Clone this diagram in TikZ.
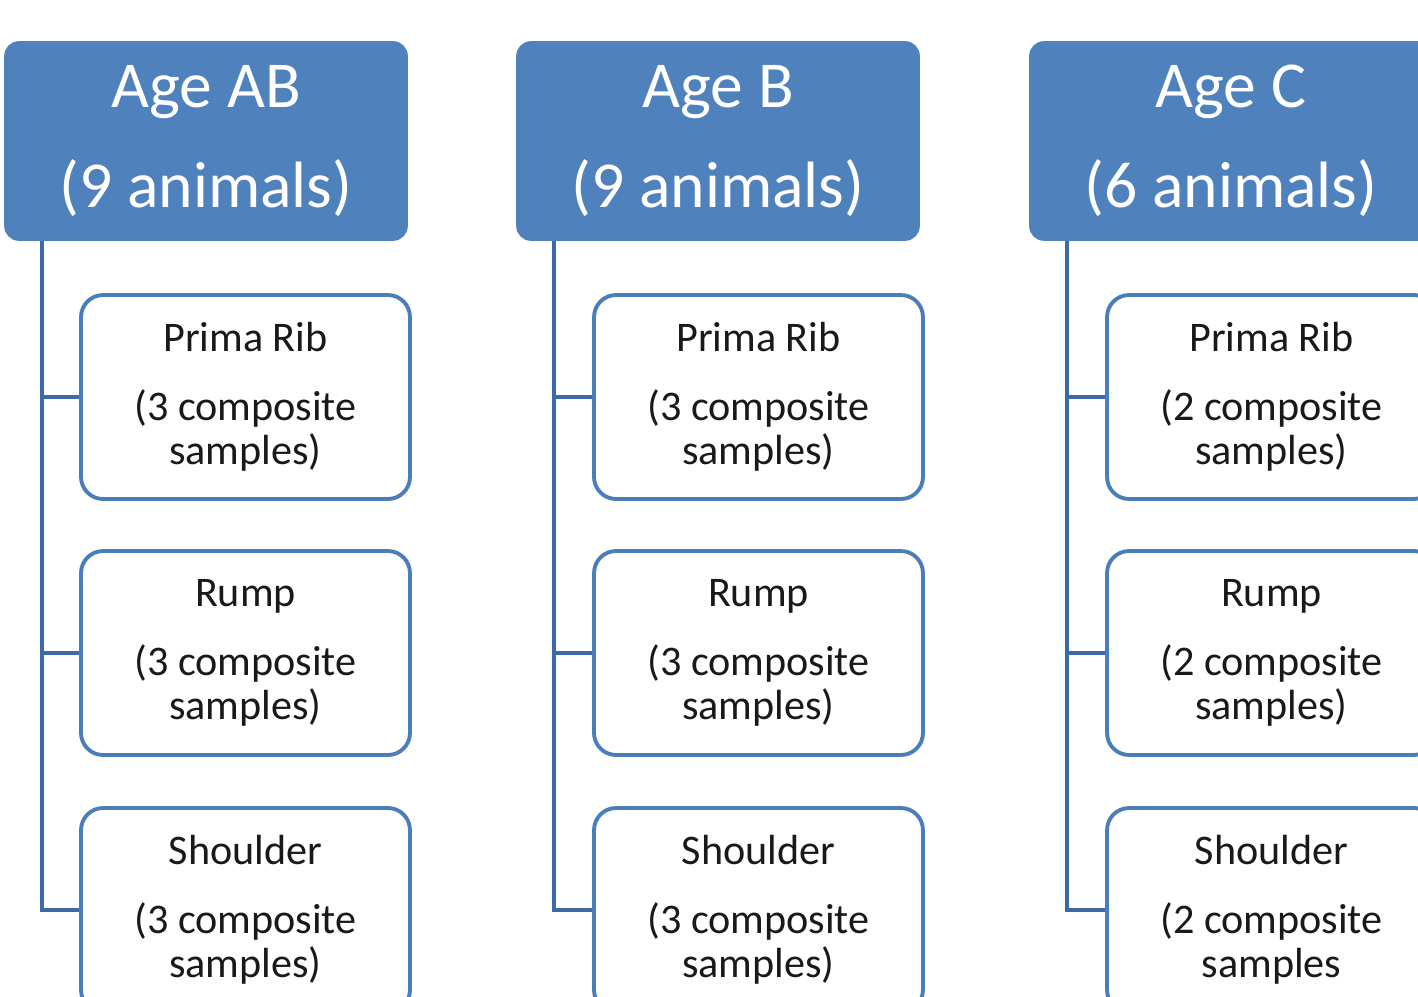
\documentclass[tikz,border=0pt]{standalone}
\usepackage{fontspec}
\setmainfont{Carlito}
\usepackage{tikz}
\definecolor{agefill}{HTML}{4F81BD}
\definecolor{cutline}{HTML}{4A7EBB}
\definecolor{trunkline}{HTML}{3D6AA2}
\tikzset{x=0.02cm, y=-0.02cm,
  agebox/.style={draw=agefill, fill=agefill, rounded corners=0.28cm, line width=1pt,
                 minimum width=8.04cm, minimum height=3.96cm, text=white, align=center,
                 font=\fontsize{37.3}{57}\selectfont},
  cutbox/.style={draw=cutline, fill=white, rounded corners=0.44cm, line width=2.2pt,
                 minimum width=6.58cm, minimum height=4.08cm, text=black!90, align=center,
                 font=\fontsize{24}{25.5}\selectfont},
  trunk/.style={draw=trunkline, line width=2.2pt}}
\newcommand{\cuttext}[2]{#1\\[13.6pt]#2}

\begin{document}
\begin{tikzpicture}
  \useasboundingbox (0,0) rectangle (1418,997);
  \clip (0,0) rectangle (1418,997);
  % age groups
  \node[agebox] (AB) at (206,141) {Age AB\\(9 animals)};
  \node[agebox] (B)  at (718,141) {Age B\\(9 animals)};
  \node[agebox] (C)  at (1231,141) {Age C\\(6 animals)};
  % cuts
  \node[cutbox] (ABrib)      at (245.5,397) {\cuttext{Prima Rib}{(3 composite\\samples)}};
  \node[cutbox] (ABrump)     at (245.5,653) {\cuttext{Rump}{(3 composite\\samples)}};
  \node[cutbox] (ABshoulder) at (245.5,910) {\cuttext{Shoulder}{(3 composite\\samples)}};
  \node[cutbox] (Brib)       at (758.5,397) {\cuttext{Prima Rib}{(3 composite\\samples)}};
  \node[cutbox] (Brump)      at (758.5,653) {\cuttext{Rump}{(3 composite\\samples)}};
  \node[cutbox] (Bshoulder)  at (758.5,910) {\cuttext{Shoulder}{(3 composite\\samples)}};
  \node[cutbox] (Crib)       at (1271.5,397) {\cuttext{Prima Rib}{(2 composite\\samples)}};
  \node[cutbox] (Crump)      at (1271.5,653) {\cuttext{Rump}{(2 composite\\samples)}};
  \node[cutbox] (Cshoulder)  at (1271.5,910) {\cuttext{Shoulder}{(2 composite\\samples}};
  % trunks
  \coordinate (ABt) at (42,0);
  \coordinate (Bt)  at (554,0);
  \coordinate (Ct)  at (1067,0);
  \draw[trunk] (ABt |- AB.south) |- (ABshoulder.west);
  \draw[trunk] (ABt |- ABrib.west) -- (ABrib.west);
  \draw[trunk] (ABt |- ABrump.west) -- (ABrump.west);
  \draw[trunk] (Bt |- B.south) |- (Bshoulder.west);
  \draw[trunk] (Bt |- Brib.west) -- (Brib.west);
  \draw[trunk] (Bt |- Brump.west) -- (Brump.west);
  \draw[trunk] (Ct |- C.south) |- (Cshoulder.west);
  \draw[trunk] (Ct |- Crib.west) -- (Crib.west);
  \draw[trunk] (Ct |- Crump.west) -- (Crump.west);
\end{tikzpicture}
\end{document}
